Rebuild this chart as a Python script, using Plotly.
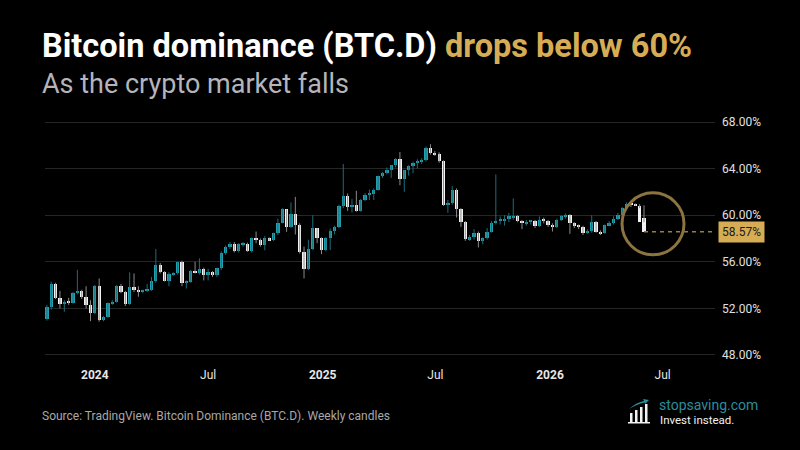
import pandas as pd
import plotly.graph_objects as go

# ---------------- data (weekly candles, BTC.D in %) ----------------
week_start = "2023-10-16"
n_weeks = 138
weeks = pd.date_range(week_start, periods=n_weeks, freq="7D")

open_ = [51.06, 52.09, 54.09, 52.9, 52.34, 52.57, 52.5, 53.34, 53.49, 53.0,
         52.29, 51.57, 53.94, 51.0, 51.29, 52.43, 52.57, 53.91, 53.43, 52.34,
         53.8, 53.57, 53.43, 53.54, 53.6, 54.34, 55.71, 55.14, 54.34, 54.91,
         55.0, 55.97, 54.2, 54.29, 55.23, 55.06, 55.37, 54.86, 55.1, 54.86,
         55.43, 56.77, 57.3, 57.57, 56.91, 57.51, 57.57, 56.91, 58.0, 57.91,
         57.43, 58.0, 57.86, 58.43, 59.37, 60.49, 59.0, 60.14, 59.2, 56.8,
         55.34, 57.14, 58.86, 58.0, 57.0, 58.0, 58.63, 59.0, 60.77, 61.66,
         60.71, 60.91, 60.37, 61.29, 61.77, 61.8, 62.2, 63.34, 63.63, 63.86,
         64.29, 64.8, 63.14, 63.86, 64.23, 64.51, 64.63, 64.71, 65.8, 65.37,
         65.23, 64.63, 60.86, 61.06, 62.2, 60.49, 59.4, 57.94, 58.09, 58.51,
         57.8, 58.0, 58.6, 59.37, 59.51, 59.57, 59.7, 59.8, 59.93, 59.51,
         59.29, 59.43, 59.5, 59.06, 59.63, 59.51, 59.14, 59.03, 59.63, 59.91,
         60.0, 59.34, 59.09, 59.0, 58.49, 58.63, 59.43, 58.57, 58.43, 59.15,
         59.3, 59.7, 60.05, 60.63, 60.92, 60.88, 60.82, 59.77]
high = [52.3, 54.3, 54.2, 53.5, 52.7, 52.9, 53.4, 55.3, 53.6, 53.9,
        52.7, 54.0, 54.57, 51.35, 52.5, 52.7, 54.0, 54.1, 53.5, 55.1,
        55.0, 53.9, 53.6, 54.1, 54.7, 57.1, 55.9, 55.2, 55.1, 55.1,
        56.0, 56.1, 54.4, 55.3, 56.0, 56.3, 55.5, 55.4, 55.2, 55.5,
        56.9, 57.4, 57.7, 57.7, 57.6, 57.7, 57.65, 58.1, 58.6, 58.0,
        58.2, 58.1, 58.5, 59.7, 60.6, 60.5, 61.1, 61.57, 59.3, 57.3,
        57.9, 60.0, 58.9, 58.1, 58.1, 58.86, 59.1, 60.9, 64.4, 61.86,
        61.4, 62.1, 61.4, 61.9, 62.2, 62.3, 63.4, 63.7, 64.1, 64.3,
        64.9, 65.43, 63.9, 64.3, 64.6, 64.8, 64.9, 65.9, 66.1, 65.5,
        65.4, 64.7, 61.3, 62.5, 62.3, 60.6, 59.5, 58.3, 58.8, 58.6,
        58.1, 58.9, 59.5, 63.5, 59.9, 60.0, 60.2, 61.45, 60.0, 59.6,
        59.6, 59.6, 59.6, 59.9, 59.8, 59.6, 59.3, 59.7, 60.0, 60.15,
        60.1, 59.4, 59.2, 59.1, 58.8, 60.0, 59.5, 58.7, 59.2, 59.5,
        59.9, 60.2, 60.7, 61.1, 61.2, 61.0, 60.95, 60.85, 59.85]
low = [50.95, 51.9, 52.8, 52.0, 51.7, 52.3, 52.4, 53.2, 52.8, 52.0,
       50.9, 51.5, 50.86, 50.9, 51.2, 52.3, 52.5, 53.3, 52.2, 52.3,
       53.4, 53.0, 53.3, 53.4, 53.5, 54.2, 55.0, 54.3, 53.9, 54.8,
       54.9, 53.9, 53.7, 54.2, 55.0, 54.9, 54.4, 54.4, 54.7, 54.7,
       55.3, 56.6, 57.1, 56.8, 56.8, 57.3, 56.85, 56.8, 57.6, 57.3,
       56.99, 57.8, 57.8, 58.3, 59.3, 58.57, 58.9, 58.34, 56.7, 54.57,
       55.3, 57.0, 57.6, 56.66, 56.9, 57.0, 58.34, 58.9, 60.6, 60.37,
       60.23, 60.3, 60.3, 61.2, 61.3, 61.3, 62.1, 63.2, 63.5, 63.2,
       64.1, 62.57, 62.0, 63.4, 63.6, 64.0, 64.4, 64.6, 65.2, 65.1,
       64.5, 60.8, 60.2, 60.9, 59.8, 59.0, 57.8, 57.8, 57.9, 57.23,
       57.5, 57.9, 58.5, 59.2, 59.2, 59.1, 59.4, 59.6, 59.4, 58.8,
       59.1, 59.2, 58.9, 59.0, 59.3, 59.0, 58.6, 58.9, 59.5, 59.7,
       58.4, 58.9, 58.8, 58.3, 58.4, 58.5, 58.5, 58.3, 58.4, 59.1,
       59.2, 59.6, 60.0, 60.5, 60.7, 60.8, 60.6, 59.4, 58.5]
close = [52.09, 54.09, 52.9, 52.34, 52.57, 52.5, 53.34, 53.49, 53.0, 52.29,
         51.57, 53.94, 51.0, 51.29, 52.43, 52.57, 53.91, 53.43, 52.34, 53.8,
         53.57, 53.43, 53.54, 53.6, 54.34, 55.71, 55.14, 54.34, 54.91, 55.0,
         55.97, 54.2, 54.29, 55.23, 55.06, 55.37, 54.86, 55.1, 54.86, 55.43,
         56.77, 57.3, 57.57, 56.91, 57.51, 57.57, 56.91, 58.0, 57.91, 57.43,
         58.0, 57.86, 58.43, 59.37, 60.49, 59.0, 60.14, 59.2, 56.8, 55.34,
         57.14, 58.86, 58.0, 57.0, 58.0, 58.63, 59.0, 60.77, 61.66, 60.71,
         60.91, 60.37, 61.29, 61.77, 61.8, 62.2, 63.34, 63.63, 63.86, 64.29,
         64.8, 63.14, 63.86, 64.23, 64.51, 64.63, 64.71, 65.8, 65.37, 65.23,
         64.63, 60.86, 61.06, 62.2, 60.49, 59.4, 57.94, 58.09, 58.51, 57.8,
         58.0, 58.6, 59.37, 59.51, 59.57, 59.7, 59.91, 59.93, 59.51, 59.29,
         59.43, 59.5, 59.06, 59.63, 59.51, 59.14, 59.03, 59.63, 59.91, 60.0,
         59.34, 59.09, 59.0, 58.49, 58.63, 59.43, 58.57, 58.43, 59.15, 59.3,
         59.7, 60.05, 60.63, 60.92, 60.88, 60.82, 59.45, 58.57]

y_tick_values = [48, 52, 56, 60, 64, 68]
y_tick_labels = [f"{v:.2f}%" for v in y_tick_values]
x_tick_dates = ["2024-01-01", "2024-07-01", "2025-01-01", "2025-07-01", "2026-01-01", "2026-07-01"]
x_tick_labels = ["<b>2024</b>", "Jul", "<b>2025</b>", "Jul", "<b>2026</b>", "Jul"]

# ---------------- styling ----------------
BG = "#000000"
TEAL = "#22a0b0"
TEAL_WICK = "#1c6d78"
WHITE = "#f2f2f2"
WHITE_WICK = "#8a8a8a"
GOLD = "#d6ad55"
GOLD_DIM = "#9a7c3e"
CIRCLE = "#8c7440"
GRID = "#262626"
FONT = "Roboto"

X_START = "2023-10-13"
X_END = "2026-09-23"
Y_RANGE = [47.74, 68.86]
MIN_BODY = 0.09
BODY_MS = 5.3 * 86400000

up_x, up_base, up_h = [], [], []
dn_x, dn_base, dn_h = [], [], []
up_wx, up_wy, dn_wx, dn_wy = [], [], [], []
for d, o, h, l, c in zip(weeks, open_, high, low, close):
    if c >= o:
        up_x.append(d); up_base.append(o); up_h.append(max(c - o, MIN_BODY))
        up_wx += [d, d, None]; up_wy += [l, h, None]
    else:
        dn_x.append(d); dn_base.append(c); dn_h.append(max(o - c, MIN_BODY))
        dn_wx += [d, d, None]; dn_wy += [l, h, None]

fig = go.Figure()
fig.add_trace(go.Scatter(x=up_wx, y=up_wy, mode="lines",
                         line=dict(color=TEAL_WICK, width=1), hoverinfo="skip"))
fig.add_trace(go.Scatter(x=dn_wx, y=dn_wy, mode="lines",
                         line=dict(color=WHITE_WICK, width=1), hoverinfo="skip"))
fig.add_trace(go.Bar(x=up_x, y=up_h, base=up_base, width=BODY_MS,
                     marker=dict(color=TEAL, line=dict(width=0))))
fig.add_trace(go.Bar(x=dn_x, y=dn_h, base=dn_base, width=BODY_MS,
                     marker=dict(color=WHITE, line=dict(width=0))))

# dashed last-price line
fig.add_trace(go.Scatter(x=[weeks[-1], X_END], y=[close[-1], close[-1]], mode="lines",
                         line=dict(color=GOLD_DIM, width=1.5, dash="4px,4px"),
                         hoverinfo="skip"))

# highlight circle around the latest candles
fig.add_shape(type="circle", xref="x", yref="y",
              xsizemode="pixel", ysizemode="pixel",
              xanchor=weeks[-1], yanchor=close[-1],
              x0=-22, x1=40, y0=-23, y1=39,
              line=dict(color=CIRCLE, width=3))

# last price label
fig.add_annotation(x=1, xref="paper", y=close[-1], yref="y", xanchor="left", yanchor="middle",
                   xshift=3, text=f"{close[-1]:.2f}%", showarrow=False,
                   bgcolor=GOLD, borderpad=3,
                   font=dict(family=FONT, size=12, color="#1a1a1a"))

# titles
fig.add_annotation(x=-0.0075, xref="paper", y=1.268, yref="paper", xanchor="left", yanchor="middle",
                   text=f"<b>Bitcoin dominance (BTC.D) <span style='color:{GOLD}'>drops below 60%</span></b>",
                   showarrow=False, font=dict(family=FONT, size=32.5, color="#ffffff"))
fig.add_annotation(x=-0.0075, xref="paper", y=1.112, yref="paper", xanchor="left", yanchor="middle",
                   text="As the crypto market falls",
                   showarrow=False, font=dict(family=FONT, size=27, color="#b4b4ba"))
fig.add_annotation(x=-0.0075, xref="paper", y=-0.236, yref="paper", xanchor="left", yanchor="middle",
                   text="Source: TradingView. Bitcoin Dominance (BTC.D). Weekly candles",
                   showarrow=False, font=dict(family=FONT, size=12, color="#a8a8a8"))


def px_x(px):
    return (px - 45) / 670


def px_y(py):
    return (358 - py) / 246


# logo
fig.add_annotation(x=px_x(657), xref="paper", y=px_y(405), yref="paper", xanchor="left", yanchor="middle",
                   text="stopsaving.com", showarrow=False,
                   font=dict(family=FONT, size=14, color="#2b8e9e"))
fig.add_annotation(x=px_x(658), xref="paper", y=px_y(420), yref="paper", xanchor="left", yanchor="middle",
                   text="Invest instead.", showarrow=False,
                   font=dict(family=FONT, size=11.5, color="#f2f2f2"))

bars_icon = [(630, 632.5, 413), (635, 637.5, 410), (640, 642.5, 407), (645, 647.5, 404)]
for x0, x1, top in bars_icon:
    fig.add_shape(type="rect", xref="paper", yref="paper",
                  x0=px_x(x0), x1=px_x(x1), y0=px_y(422), y1=px_y(top),
                  fillcolor="#f2f2f2", line=dict(width=0))
fig.add_shape(type="rect", xref="paper", yref="paper",
              x0=px_x(628), x1=px_x(650), y0=px_y(423.5), y1=px_y(422),
              fillcolor="#f2f2f2", line=dict(width=0))
fig.add_shape(type="path", xref="paper", yref="paper",
              path=(f"M {px_x(629)},{px_y(409)} Q {px_x(637)},{px_y(402)} {px_x(644)},{px_y(401)} "
                    f"L {px_x(643)},{px_y(399)} L {px_x(649)},{px_y(400)} L {px_x(645)},{px_y(404)} "
                    f"L {px_x(644.5)},{px_y(402.5)} Q {px_x(637)},{px_y(404)} {px_x(629)},{px_y(409)} Z"),
              fillcolor="#2b8e9e", line=dict(width=0))

fig.update_layout(
    width=800, height=450,
    margin=dict(l=45, r=85, t=112, b=92),
    paper_bgcolor=BG, plot_bgcolor=BG,
    showlegend=False, barmode="overlay", bargap=0,
    font=dict(family=FONT, color="#e6e6e6"),
    xaxis=dict(type="date", range=[X_START, X_END], tickvals=x_tick_dates, ticktext=x_tick_labels,
               showgrid=False, zeroline=False, showline=False, ticks="",
               ticklabelstandoff=8, tickfont=dict(family=FONT, size=12, color="#e6e6e6")),
    yaxis=dict(side="right", range=Y_RANGE, tickvals=y_tick_values, ticktext=y_tick_labels,
               showgrid=True, gridcolor=GRID, gridwidth=1, zeroline=False,
               showline=False, ticks="", ticklabelstandoff=6,
               tickfont=dict(family=FONT, size=12, color="#e0e0e0")),
)

# remove the page's default body margin so the 800x450 figure fills the window
fig.write_html(
    "out.html",
    config={"displayModeBar": False},
    post_script="document.body.style.margin='0';document.body.style.background='#000';",
)
